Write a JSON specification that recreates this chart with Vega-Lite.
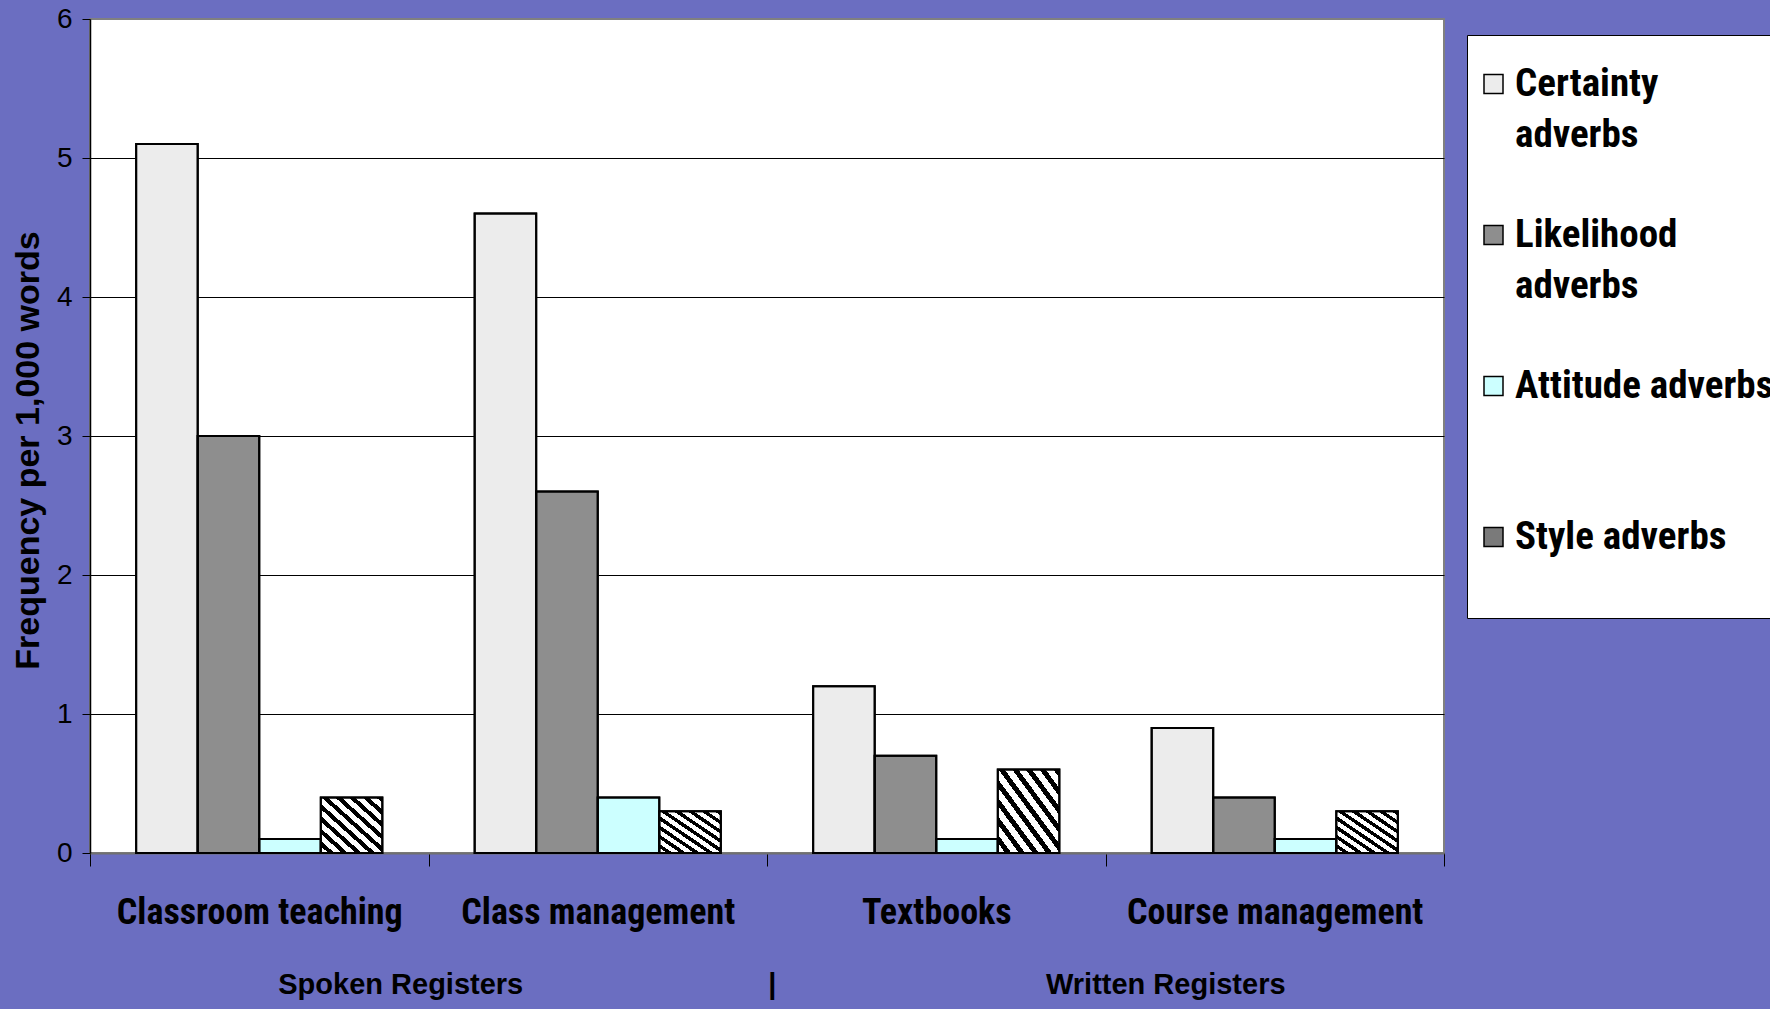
{
  "$schema": "https://vega.github.io/schema/vega-lite/v6.json",
  "width": 1354,
  "height": 834,
  "autosize": {"type": "none"},
  "padding": {"left": 90, "top": 19, "right": 326, "bottom": 156},
  "background": "#6b6ec1",
  "view": {"fill": "white", "stroke": "#808080", "strokeWidth": 2},
  "config": {"style": {"guide-label": {"lineHeight": 51}}},
  "data": {
    "values": [
      {"register": "Classroom teaching", "type": "Certainty adverbs", "value": 5.1},
      {"register": "Classroom teaching", "type": "Likelihood adverbs", "value": 3.0},
      {"register": "Classroom teaching", "type": "Attitude adverbs", "value": 0.1},
      {"register": "Classroom teaching", "type": "Style adverbs", "value": 0.4},
      {"register": "Class management", "type": "Certainty adverbs", "value": 4.6},
      {"register": "Class management", "type": "Likelihood adverbs", "value": 2.6},
      {"register": "Class management", "type": "Attitude adverbs", "value": 0.4},
      {"register": "Class management", "type": "Style adverbs", "value": 0.3},
      {"register": "Textbooks", "type": "Certainty adverbs", "value": 1.2},
      {"register": "Textbooks", "type": "Likelihood adverbs", "value": 0.7},
      {"register": "Textbooks", "type": "Attitude adverbs", "value": 0.1},
      {"register": "Textbooks", "type": "Style adverbs", "value": 0.6},
      {"register": "Course management", "type": "Certainty adverbs", "value": 0.9},
      {"register": "Course management", "type": "Likelihood adverbs", "value": 0.4},
      {"register": "Course management", "type": "Attitude adverbs", "value": 0.1},
      {"register": "Course management", "type": "Style adverbs", "value": 0.3}
    ]
  },
  "layer": [
    {
      "mark": {"type": "bar", "stroke": "black", "strokeWidth": 2},
      "encoding": {
        "x": {
          "field": "register", "type": "nominal",
          "sort": ["Classroom teaching", "Class management", "Textbooks", "Course management"],
          "scale": {"paddingInner": 0, "paddingOuter": 0},
          "axis": {
            "title": null, "orient": "bottom", "tickBand": "extent",
            "domainColor": "#707070", "domainWidth": 2,
            "tickColor": "black", "tickSize": 13, "tickWidth": 1,
            "labelAngle": 0, "labelFont": "Liberation Sans Narrow, Arial Narrow, Roboto Condensed, Liberation Sans",
            "labelFontWeight": "bold", "labelFontSize": 36, "labelColor": "black",
            "labelPadding": 29, "labelBaseline": "top", "labelLimit": 600
          }
        },
        "xOffset": {
          "field": "type",
          "sort": ["Certainty adverbs", "Likelihood adverbs", "Attitude adverbs", "Style adverbs"],
          "scale": {"paddingInner": 0, "paddingOuter": 0.75}
        },
        "y": {
          "field": "value", "type": "quantitative",
          "scale": {"domain": [0, 6], "nice": false},
          "axis": {
            "values": [0, 1, 2, 3, 4, 5, 6], "format": "d",
            "grid": true, "gridColor": "black", "gridWidth": 1,
            "gridOpacity": {"condition": {"test": "datum.value == 6 || datum.value == 0", "value": 0}, "value": 1},
            "domainColor": "black", "domainWidth": 1.5,
            "tickColor": "black", "tickSize": 8,
            "labelFont": "Liberation Sans", "labelFontSize": 28, "labelColor": "black", "labelPadding": 10,
            "title": "Frequency per 1,000 words",
            "titleFont": "Liberation Sans", "titleFontSize": 34, "titleFontWeight": "bold",
            "titleColor": "black", "titlePadding": 11, "titleY": 431
          }
        },
        "fill": {
          "condition": {
            "test": "datum.type == 'Style adverbs'",
            "value": {"gradient": "linear", "x1": 0, "y1": 1, "x2": 1, "y2": 0, "stops": [
              {"offset": 0, "color": "white"}, {"offset": 0.0611, "color": "white"}, {"offset": 0.0611, "color": "black"}, {"offset": 0.1111, "color": "black"},
              {"offset": 0.1111, "color": "white"}, {"offset": 0.1722, "color": "white"}, {"offset": 0.1722, "color": "black"}, {"offset": 0.2222, "color": "black"},
              {"offset": 0.2222, "color": "white"}, {"offset": 0.2833, "color": "white"}, {"offset": 0.2833, "color": "black"}, {"offset": 0.3333, "color": "black"},
              {"offset": 0.3333, "color": "white"}, {"offset": 0.3944, "color": "white"}, {"offset": 0.3944, "color": "black"}, {"offset": 0.4444, "color": "black"},
              {"offset": 0.4444, "color": "white"}, {"offset": 0.5056, "color": "white"}, {"offset": 0.5056, "color": "black"}, {"offset": 0.5556, "color": "black"},
              {"offset": 0.5556, "color": "white"}, {"offset": 0.6167, "color": "white"}, {"offset": 0.6167, "color": "black"}, {"offset": 0.6667, "color": "black"},
              {"offset": 0.6667, "color": "white"}, {"offset": 0.7278, "color": "white"}, {"offset": 0.7278, "color": "black"}, {"offset": 0.7778, "color": "black"},
              {"offset": 0.7778, "color": "white"}, {"offset": 0.8389, "color": "white"}, {"offset": 0.8389, "color": "black"}, {"offset": 0.8889, "color": "black"},
              {"offset": 0.8889, "color": "white"}, {"offset": 0.95, "color": "white"}, {"offset": 0.95, "color": "black"}, {"offset": 1, "color": "black"}
            ]}
          },
          "field": "type", "type": "nominal",
          "scale": {
            "domain": ["Certainty adverbs", "Likelihood adverbs", "Attitude adverbs", "Style adverbs"],
            "range": ["#ececec", "#8e8e8e", "#ccffff", "#7a7a7a"]
          },
          "legend": {
            "orient": "none", "legendX": 1377, "legendY": 16,
            "title": null,
            "fillColor": "white", "strokeColor": "black", "padding": 10,
            "symbolType": "M-1,1.05H1V3.05H-1Z", "symbolSize": 361,
            "symbolStrokeColor": "black", "symbolStrokeWidth": 1.5, "symbolOffset": -3,
            "labelFont": "Liberation Sans Narrow, Arial Narrow, Roboto Condensed, Liberation Sans",
            "labelFontWeight": "bold", "labelFontSize": 39,
            "labelColor": "black", "labelLimit": 600,
            "labelBaseline": "top", "labelOffset": 2, "rowPadding": 41,
            "labelExpr": "datum.label == 'Certainty adverbs' ? ['Certainty', 'adverbs'] : datum.label == 'Likelihood adverbs' ? ['Likelihood', 'adverbs'] : datum.label == 'Attitude adverbs' ? ['Attitude adverbs', ''] : ['Style adverbs', '']"
          }
        }
      }
    },
    {
      "mark": {"type": "bar", "filled": false, "stroke": "black", "strokeWidth": 2},
      "encoding": {
        "x": {
          "field": "register", "type": "nominal",
          "sort": ["Classroom teaching", "Class management", "Textbooks", "Course management"],
          "axis": {
            "title": null, "orient": "bottom",
            "domain": false, "ticks": false, "grid": false,
            "labelAngle": 0, "labelFont": "Liberation Sans", "labelFontWeight": "bold",
            "labelFontSize": 29, "labelColor": "black", "labelBaseline": "top",
            "labelPadding": 117, "labelLimit": 600,
            "labelOffset": {"condition": [
              {"test": "datum.value == 'Class management'", "value": -197},
              {"test": "datum.value == 'Textbooks'", "value": -164}
            ], "value": -109},
            "labelExpr": "datum.value == 'Class management' ? 'Spoken Registers' : datum.value == 'Textbooks' ? '|' : datum.value == 'Course management' ? 'Written Registers' : ''"
          }
        },
        "xOffset": {
          "field": "type",
          "sort": ["Certainty adverbs", "Likelihood adverbs", "Attitude adverbs", "Style adverbs"]
        },
        "y": {"field": "value", "type": "quantitative"}
      }
    }
  ],
  "resolve": {"axis": {"x": "independent"}}
}
